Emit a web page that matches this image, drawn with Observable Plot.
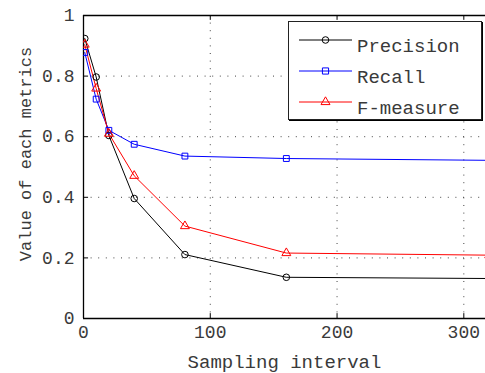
<!DOCTYPE html>
<html>
<head>
<meta charset="utf-8">
<script src="https://cdn.jsdelivr.net/npm/d3@7"></script>
<script src="https://cdn.jsdelivr.net/npm/@observablehq/plot@0.6"></script>
<style>
  html, body { margin: 0; padding: 0; background: #fff; }
  #wrap { position: relative; width: 485px; height: 373px; overflow: hidden; font-family: "Liberation Mono", "DejaVu Sans Mono", monospace; }
  #legend { position: absolute; left: 288px; top: 21px; width: 192px; height: 97px; background: #fff; border: 1px solid #222; box-shadow: 1px 1px 0 #000; }
  .row { position: absolute; left: 0; height: 20px; }
  .row span { position: absolute; left: 68px; top: 7px; font-size: 19px; color: #3a3a3a; white-space: nowrap; line-height: 20px; }
</style>
</head>
<body>
<div id="wrap"></div>
<script>
// ---- data ----
const intervals = [1, 10, 20, 40, 80, 160, 320];
const precision = [0.924, 0.797, 0.604, 0.396, 0.211, 0.136, 0.132];
const recall    = [0.878, 0.724, 0.621, 0.575, 0.536, 0.528, 0.522];
const fmeasure  = [0.904, 0.759, 0.610, 0.471, 0.305, 0.216, 0.209];
const seriesNames = ["Precision", "Recall", "F-measure"];
const seriesColors = ["#000000", "#0000ff", "#ff0000"];
const seriesSymbols = ["circle", "square", "triangle"];
const xTicks = [0, 100, 200, 300];
const yTicks = [0, 0.2, 0.4, 0.6, 0.8, 1];
const xLabel = "Sampling interval";
const yLabel = "Value of each metrics";

const values = [precision, recall, fmeasure];
const data = [];
seriesNames.forEach((s, i) => intervals.forEach((x, j) => data.push({series: s, x, y: values[i][j]})));

const font = "Liberation Mono, DejaVu Sans Mono, monospace";
const textColor = "#3a3a3a";
const grid = {stroke: "#444", strokeOpacity: 1, strokeDasharray: "1,6.6", strokeWidth: 1};

const chart = Plot.plot({
  width: 485,
  height: 373,
  marginLeft: 83,
  marginRight: 0,
  marginTop: 15,
  marginBottom: 55,
  style: {fontFamily: font, color: textColor, background: "#fff", overflow: "hidden"},
  x: {domain: [0, 317.1]},
  y: {domain: [0, 1]},
  color: {domain: seriesNames, range: seriesColors},
  symbol: {domain: seriesNames, range: seriesSymbols},
  marks: [
    Plot.gridX(xTicks.filter(d => d > 0), {...grid}),
    Plot.gridY(yTicks.filter(d => d > 0 && d < 1), {...grid}),
    Plot.ruleX([0], {stroke: "#000", strokeWidth: 1.3}),
    Plot.ruleY([0, 1], {stroke: "#000", strokeWidth: 1.3}),
    // inner tick marks
    Plot.ruleX(xTicks, {x: d => d, y1: 0, y2: 0.016, stroke: "#000"}),
    Plot.ruleX(xTicks, {x: d => d, y1: 1, y2: 0.984, stroke: "#000"}),
    Plot.ruleY(yTicks, {y: d => d, x1: 0, x2: 4, stroke: "#000"}),
    Plot.axisX({ticks: xTicks, tickSize: 0, tickPadding: 7, fontSize: 18, label: null, tickFormat: d => String(d)}),
    Plot.axisY({ticks: yTicks, tickSize: 0, tickPadding: 9, fontSize: 18, label: null, tickFormat: d => d === 0 || d === 1 ? String(d) : d.toFixed(1)}),
    Plot.line(data, {x: "x", y: "y", z: "series", stroke: "series", strokeWidth: 1, clip: true}),
    Plot.dot(data, {x: "x", y: "y", symbol: "series", stroke: "series", fill: "none", r: 3.3, strokeWidth: 1, clip: true}),
    Plot.text([xLabel], {text: d => d, frameAnchor: "bottom", dy: 43, textAnchor: "middle", lineAnchor: "middle", fontSize: 19, fill: textColor}),
    Plot.text([yLabel], {text: d => d, frameAnchor: "left", dx: -58, dy: -13, rotate: -90, textAnchor: "middle", lineAnchor: "middle", fontSize: 17, fill: textColor})
  ]
});

const wrap = document.getElementById("wrap");
wrap.appendChild(chart);

// ---- legend ----
const legend = document.createElement("div");
legend.id = "legend";
seriesNames.forEach((name, i) => {
  const row = document.createElement("div");
  row.className = "row";
  row.style.top = (8 + i * 31) + "px";
  row.style.width = "190px";
  const svg = d3.create("svg").attr("width", 66).attr("height", 20).style("position", "absolute").style("left", "0").style("top", "0");
  svg.append("line").attr("x1", 10).attr("x2", 63).attr("y1", 10).attr("y2", 10).attr("stroke", seriesColors[i]).attr("stroke-width", 1);
  const symbolType = {circle: d3.symbolCircle, square: d3.symbolSquare, triangle: d3.symbolTriangle}[seriesSymbols[i]];
  const size = seriesSymbols[i] === "circle" ? Math.PI * 3.3 * 3.3 : (seriesSymbols[i] === "square" ? 3.3 * 3.3 * 3.5 : 3.3 * 3.3 * 3.2);
  svg.append("path").attr("d", d3.symbol(symbolType, size)()).attr("transform", "translate(36.5,10)")
     .attr("fill", "none").attr("stroke", seriesColors[i]).attr("stroke-width", 1);
  row.appendChild(svg.node());
  const label = document.createElement("span");
  label.textContent = name;
  row.appendChild(label);
  legend.appendChild(row);
});
wrap.appendChild(legend);
</script>
</body>
</html>
